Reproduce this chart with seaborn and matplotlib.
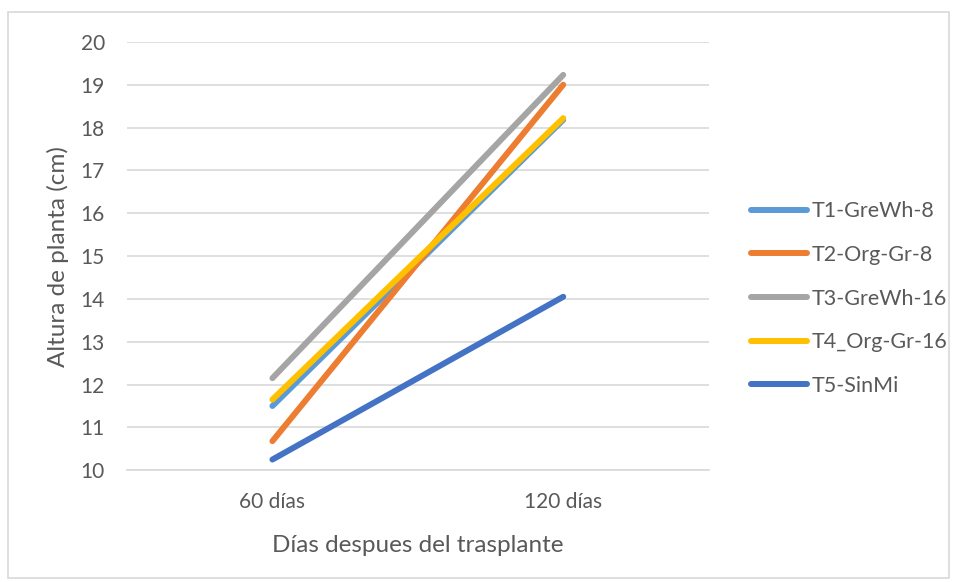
import matplotlib
matplotlib.use("Agg")
import matplotlib.pyplot as plt
from matplotlib.patches import Rectangle
from matplotlib.lines import Line2D
import seaborn as sns
import pandas as pd

dias = ["60 días", "120 días"]
tratamientos = ["T1-GreWh-8", "T2-Org-Gr-8", "T3-GreWh-16", "T4_Org-Gr-16", "T5-SinMi"]
t1 = [11.50, 18.18]
t2 = [10.68, 19.00]
t3 = [12.15, 19.23]
t4 = [11.65, 18.22]
t5 = [10.25, 14.05]
colores = ["#5b9bd5", "#ed7d31", "#a5a5a5", "#ffc000", "#4472c4"]

valores = [t1, t2, t3, t4, t5]
filas = []
for nombre, serie in zip(tratamientos, valores):
    for i, (d, v) in enumerate(zip(dias, serie)):
        filas.append({"pos": i, "Días": d, "Tratamiento": nombre, "Altura": v})
df = pd.DataFrame(filas)

sns.set_theme(style="white")
plt.rcParams["font.family"] = ["Lato", "DejaVu Sans"]
texto = "#595959"
rejilla = "#d9d9d9"

fig = plt.figure(figsize=(9.55, 5.82), dpi=100)
ax = fig.add_axes([0.133, 0.192, 0.609, 0.736])

sns.lineplot(data=df, x="pos", y="Altura", hue="Tratamiento",
             hue_order=tratamientos, palette=colores, linewidth=4.3,
             solid_capstyle="round", legend=False, ax=ax, zorder=3)

ax.set_xlim(-0.5, 1.5)
ax.set_ylim(10, 20)
ax.set_yticks(range(10, 21))
ax.set_xticks([0, 1])
ax.set_xticklabels(dias)
ax.set_xticks([-0.5, 0.5, 1.5], minor=True)
ax.tick_params(axis="x", which="major", length=0, pad=16, labelsize=15, labelcolor=texto)
ax.tick_params(axis="x", which="minor", length=6, width=1.2, color=rejilla, direction="out")
ax.tick_params(axis="y", length=0, pad=16, labelsize=15, labelcolor=texto)
ax.grid(axis="y", color=rejilla, linewidth=1.2, zorder=0)
ax.set_axisbelow(True)
for s in ["top", "right", "left"]:
    ax.spines[s].set_visible(False)
ax.spines["bottom"].set_color(rejilla)
ax.spines["bottom"].set_linewidth(1.2)

ax.set_xlabel("Días despues del trasplante", fontsize=17.5, color=texto, labelpad=16)
ax.set_ylabel("Altura de planta (cm)", fontsize=17.5, color=texto, labelpad=8)

handles = [Line2D([0], [0], color=c, linewidth=4.3, solid_capstyle="round") for c in colores]
fig.legend(handles, tratamientos, loc="center left", bbox_to_anchor=(0.766, 0.487),
           frameon=False, fontsize=15.5, labelcolor=texto, handlelength=2.6,
           handletextpad=0.2, labelspacing=1.1)

fig.patches.append(Rectangle((0.008, 0.007), 0.986, 0.972, transform=fig.transFigure,
                             fill=False, edgecolor=rejilla, linewidth=1.2))

fig.savefig("out.png", dpi=100)
